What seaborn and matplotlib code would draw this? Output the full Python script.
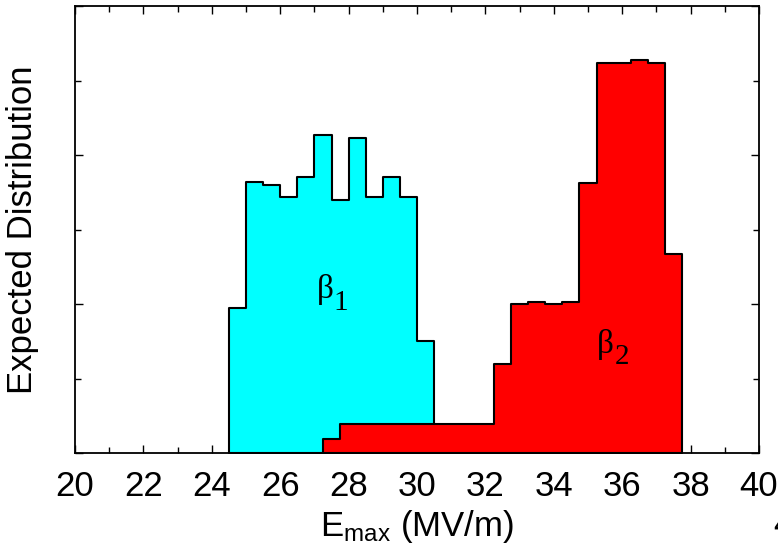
import numpy as np
import pandas as pd
import matplotlib
matplotlib.use("Agg")
import matplotlib.pyplot as plt
from matplotlib.ticker import MultipleLocator, NullFormatter
import seaborn as sns

# ---- data ----
beta1_edges = [24.5, 25.0, 25.5, 26.0, 26.5, 27.0, 27.5, 28.0, 28.5, 29.0, 29.5, 30.0, 30.5]
beta1_heights = [1.94, 3.64, 3.60, 3.43, 3.71, 4.27, 3.40, 4.23, 3.43, 3.71, 3.43, 1.51]

beta2_edges = [27.25, 27.75, 28.25, 28.75, 29.25, 29.75, 30.25, 30.75, 31.25, 31.75,
               32.25, 32.75, 33.25, 33.75, 34.25, 34.75, 35.25, 35.75, 36.25, 36.75,
               37.25, 37.75]
beta2_heights = [0.19, 0.39, 0.39, 0.39, 0.39, 0.39, 0.39, 0.39, 0.39, 0.39,
                 1.20, 2.00, 2.03, 2.00, 2.03, 3.63, 5.24, 5.24, 5.27, 5.24, 2.67]

x_ticks = [20, 22, 24, 26, 28, 30, 32, 34, 36, 38, 40]
series_names = ["β", "β"]
series_subs = ["1", "2"]

sns.set_theme(style="white")
plt.rcParams["font.family"] = ["Liberation Sans", "DejaVu Sans"]
plt.rcParams["mathtext.fontset"] = "custom"
plt.rcParams["mathtext.rm"] = "Liberation Sans"
plt.rcParams["mathtext.it"] = "Liberation Sans"
for k in ["text.color", "axes.labelcolor", "xtick.color", "ytick.color"]:
    plt.rcParams[k] = "black"

fig = plt.figure(figsize=(7.78, 5.47), dpi=100)
ax = fig.add_axes([75 / 778, 1 - 453 / 547, (759 - 75) / 778, (453 - 6) / 547])


def centers(edges):
    e = np.asarray(edges)
    return (e[:-1] + e[1:]) / 2


df1 = pd.DataFrame({"x": centers(beta1_edges), "w": beta1_heights})
df2 = pd.DataFrame({"x": centers(beta2_edges), "w": beta2_heights})

sns.histplot(data=df1, x="x", weights="w", bins=beta1_edges, element="step",
             fill=True, color="#00ffff", alpha=1, edgecolor="black", linewidth=1.5,
             ax=ax)
sns.histplot(data=df2, x="x", weights="w", bins=beta2_edges, element="step",
             fill=True, color="#ff0000", alpha=1, edgecolor="black", linewidth=1.5,
             ax=ax)

ax.set_xlim(20, 40)
ax.set_ylim(0, 6)
ax.set_xticks(x_ticks)
ax.set_xticklabels([str(t) for t in x_ticks])
ax.xaxis.set_minor_locator(MultipleLocator(1))
ax.yaxis.set_major_locator(MultipleLocator(2))
ax.yaxis.set_minor_locator(MultipleLocator(1))
ax.yaxis.set_major_formatter(NullFormatter())
ax.tick_params(which="both", direction="in", top=True, right=True,
               bottom=True, left=True, color="black", width=1.0)
ax.tick_params(which="major", length=5.5, labelsize=25, pad=12)
ax.tick_params(which="minor", length=4)
for s in ax.spines.values():
    s.set_visible(True)
    s.set_color("black")
    s.set_linewidth(1.3)

ax.set_xlabel(r"E$_{\mathrm{max}}$ (MV/m)", fontsize=25, labelpad=4)
ax.set_ylabel("Expected Distribution", fontsize=25, labelpad=14)

# series labels: β with a large lowered index, serif as in the reference
ax.text(27.08, 2.08, series_names[0], fontsize=24, ha="left", va="baseline",
        family="Liberation Serif")
ax.text(27.57, 1.92, series_subs[0], fontsize=21, ha="left", va="baseline",
        family="Liberation Serif")
ax.text(35.26, 1.34, series_names[1], fontsize=24, ha="left", va="baseline",
        family="Liberation Serif")
ax.text(35.79, 1.20, series_subs[1], fontsize=21, ha="left", va="baseline",
        family="Liberation Serif")

fig.text(773 / 778, 1 - 535 / 547, "4", fontsize=25, ha="left", va="baseline")

fig.savefig("out.png", dpi=100)
